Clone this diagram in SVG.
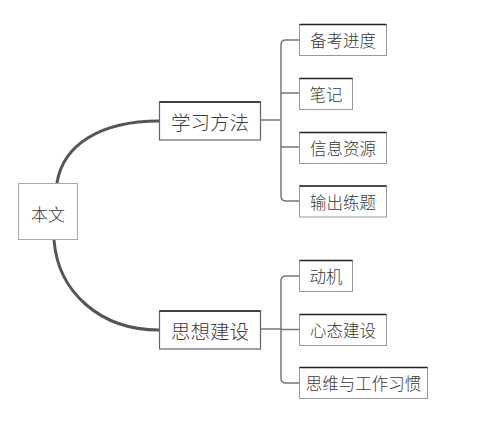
<svg xmlns="http://www.w3.org/2000/svg" width="482" height="425" viewBox="0 0 482 425">
<style>
text{font-family:"Noto Sans CJK SC","Microsoft YaHei",sans-serif;fill:#3a3a3a;font-weight:300;dominant-baseline:central}
.root{fill:#fff;stroke:#aaa;stroke-width:1}
.main{fill:#fff;stroke:#666;stroke-width:1.2}
.leaf{fill:#fff;stroke:#999;stroke-width:1}
.top{stroke:#222;stroke-width:1.6;fill:none}
.mt{font-size:19.5px}
.lt{font-size:16.5px}
.curve{fill:none;stroke:#555;stroke-width:3;stroke-linecap:round}
.br{fill:none;stroke:#777;stroke-width:1.5}
</style>
<rect width="482" height="425" fill="#fff"/>
<g id="connectors">
<path class="curve" d="M57,183 C63,145 100,121 159,121"/>
<path class="curve" d="M54,240 C58,292 100,330 159,330"/>
<path class="br" d="M261,120 H281"/>
<path class="br" d="M299,40 H286 Q281,40 281,45 V196 Q281,201 286,201 H299"/>
<path class="br" d="M281,93 H299 M281,147 H299"/>
<path class="br" d="M261,329 H281"/>
<path class="br" d="M299,276 H286 Q281,276 281,281 V378 Q281,383 286,383 H299"/>
<path class="br" d="M281,329.5 H299"/>
</g>
<g id="root">
<rect class="root" x="18.5" y="183.5" width="59" height="56"/>
<text x="48" y="213" text-anchor="middle" style="font-size:17px">本文</text>
</g>
<g id="n-xuexi">
<rect class="main" x="159.5" y="102" width="101" height="38"/>
<path class="top" d="M159.5,102 H260.5"/>
<text class="mt" x="210" y="121" text-anchor="middle">学习方法</text>
</g>
<g id="n-sixiang">
<rect class="main" x="159.5" y="311" width="101" height="38"/>
<path class="top" d="M159.5,311 H260.5"/>
<text class="mt" x="210" y="330" text-anchor="middle">思想建设</text>
</g>
<g id="n-beikao">
<rect class="leaf" x="299.5" y="24.5" width="87" height="31"/>
<path class="top" d="M299.5,24.5 H386.5"/>
<text class="lt" x="343" y="40" text-anchor="middle">备考进度</text>
</g>
<g id="n-biji">
<rect class="leaf" x="299.5" y="78.5" width="53" height="31"/>
<path class="top" d="M299.5,78.5 H352.5"/>
<text class="lt" x="326" y="94" text-anchor="middle">笔记</text>
</g>
<g id="n-xinxi">
<rect class="leaf" x="299.5" y="132.5" width="87" height="31"/>
<path class="top" d="M299.5,132.5 H386.5"/>
<text class="lt" x="343" y="148" text-anchor="middle">信息资源</text>
</g>
<g id="n-shuchu">
<rect class="leaf" x="299.5" y="186" width="87" height="31"/>
<path class="top" d="M299.5,186 H386.5"/>
<text class="lt" x="343" y="201.5" text-anchor="middle">输出练题</text>
</g>
<g id="n-dongji">
<rect class="leaf" x="299.5" y="260.5" width="53" height="31"/>
<path class="top" d="M299.5,260.5 H352.5"/>
<text class="lt" x="326" y="276" text-anchor="middle">动机</text>
</g>
<g id="n-xintai">
<rect class="leaf" x="299.5" y="314.5" width="87" height="31"/>
<path class="top" d="M299.5,314.5 H386.5"/>
<text class="lt" x="343" y="330" text-anchor="middle">心态建设</text>
</g>
<g id="n-siwei">
<rect class="leaf" x="299.5" y="367.5" width="128" height="31"/>
<path class="top" d="M299.5,367.5 H427.5"/>
<text class="lt" x="363.5" y="383" text-anchor="middle">思维与工作习惯</text>
</g>
</svg>
